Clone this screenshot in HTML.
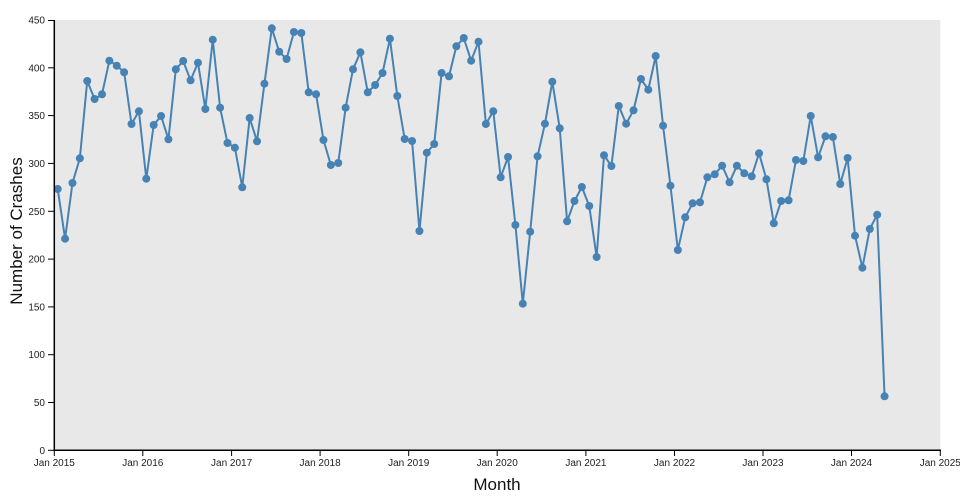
<!DOCTYPE html>
<html><head><meta charset="utf-8"><style>
html,body{margin:0;padding:0;background:#fff;}
svg{display:block;}
text{font-family:"Liberation Sans","DejaVu Sans",sans-serif;}
</style></head><body>
<svg width="960" height="500" viewBox="0 0 960 500" xmlns="http://www.w3.org/2000/svg">
<rect x="54.3" y="20" width="886" height="430.3" fill="#e8e8e8"/>
<polyline fill="none" stroke="#4682b4" stroke-width="2" stroke-linejoin="round" points="57.7,189 65.08,238.7 72.47,183 79.85,158.3 87.23,81 94.61,99 102,94.3 109.38,60.7 116.76,65.7 124.14,72.3 131.53,124 138.91,111.3 146.29,178.7 153.67,125 161.06,116 168.44,139.3 175.82,69.3 183.2,61 190.59,80.3 197.97,62.7 205.35,109 212.73,39.7 220.12,107.7 227.5,143 234.88,147.7 242.27,187.3 249.65,118 257.03,141.3 264.41,83.7 271.8,28.3 279.18,51.7 286.56,59 293.94,32 301.33,33 308.71,92.3 316.09,94.3 323.47,140 330.86,165 338.24,163 345.62,107.7 353,69.3 360.39,52.3 367.77,92.3 375.15,85 382.53,73 389.92,38.7 397.3,96 404.68,139 412.07,141 419.45,231 426.83,152.7 434.21,144 441.6,73 448.98,76.3 456.36,46.3 463.74,38 471.13,60.7 478.51,41.7 485.89,124 493.27,111.3 500.66,177.3 508.04,157 515.42,225 522.8,303.7 530.19,231.7 537.57,156.3 544.95,123.7 552.33,81.7 559.72,128.3 567.1,221.3 574.48,201 581.87,187 589.25,206 596.63,257 604.01,155.3 611.4,166 618.78,106 626.16,123.7 633.54,110.3 640.93,79 648.31,89.7 655.69,56 663.07,125.7 670.46,185.7 677.84,250 685.22,217.3 692.6,203.3 699.99,202.3 707.37,177.3 714.75,174.3 722.13,165.7 729.52,182.3 736.9,165.7 744.28,173.3 751.67,176.3 759.05,153.3 766.43,179.3 773.81,223.3 781.2,201 788.58,200.3 795.96,160 803.34,161 810.73,116 818.11,157.3 825.49,136.3 832.87,137 840.26,184 847.64,158 855.02,235.7 862.4,267.7 869.79,229 877.17,214.7 884.55,396.3"/>
<g fill="#4682b4">
<circle cx="57.7" cy="189" r="4"/><circle cx="65.08" cy="238.7" r="4"/><circle cx="72.47" cy="183" r="4"/><circle cx="79.85" cy="158.3" r="4"/><circle cx="87.23" cy="81" r="4"/><circle cx="94.61" cy="99" r="4"/><circle cx="102" cy="94.3" r="4"/><circle cx="109.38" cy="60.7" r="4"/><circle cx="116.76" cy="65.7" r="4"/><circle cx="124.14" cy="72.3" r="4"/><circle cx="131.53" cy="124" r="4"/><circle cx="138.91" cy="111.3" r="4"/><circle cx="146.29" cy="178.7" r="4"/><circle cx="153.67" cy="125" r="4"/><circle cx="161.06" cy="116" r="4"/><circle cx="168.44" cy="139.3" r="4"/><circle cx="175.82" cy="69.3" r="4"/><circle cx="183.2" cy="61" r="4"/><circle cx="190.59" cy="80.3" r="4"/><circle cx="197.97" cy="62.7" r="4"/><circle cx="205.35" cy="109" r="4"/><circle cx="212.73" cy="39.7" r="4"/><circle cx="220.12" cy="107.7" r="4"/><circle cx="227.5" cy="143" r="4"/><circle cx="234.88" cy="147.7" r="4"/><circle cx="242.27" cy="187.3" r="4"/><circle cx="249.65" cy="118" r="4"/><circle cx="257.03" cy="141.3" r="4"/><circle cx="264.41" cy="83.7" r="4"/><circle cx="271.8" cy="28.3" r="4"/><circle cx="279.18" cy="51.7" r="4"/><circle cx="286.56" cy="59" r="4"/><circle cx="293.94" cy="32" r="4"/><circle cx="301.33" cy="33" r="4"/><circle cx="308.71" cy="92.3" r="4"/><circle cx="316.09" cy="94.3" r="4"/><circle cx="323.47" cy="140" r="4"/><circle cx="330.86" cy="165" r="4"/><circle cx="338.24" cy="163" r="4"/><circle cx="345.62" cy="107.7" r="4"/><circle cx="353" cy="69.3" r="4"/><circle cx="360.39" cy="52.3" r="4"/><circle cx="367.77" cy="92.3" r="4"/><circle cx="375.15" cy="85" r="4"/><circle cx="382.53" cy="73" r="4"/><circle cx="389.92" cy="38.7" r="4"/><circle cx="397.3" cy="96" r="4"/><circle cx="404.68" cy="139" r="4"/><circle cx="412.07" cy="141" r="4"/><circle cx="419.45" cy="231" r="4"/><circle cx="426.83" cy="152.7" r="4"/><circle cx="434.21" cy="144" r="4"/><circle cx="441.6" cy="73" r="4"/><circle cx="448.98" cy="76.3" r="4"/><circle cx="456.36" cy="46.3" r="4"/><circle cx="463.74" cy="38" r="4"/><circle cx="471.13" cy="60.7" r="4"/><circle cx="478.51" cy="41.7" r="4"/><circle cx="485.89" cy="124" r="4"/><circle cx="493.27" cy="111.3" r="4"/><circle cx="500.66" cy="177.3" r="4"/><circle cx="508.04" cy="157" r="4"/><circle cx="515.42" cy="225" r="4"/><circle cx="522.8" cy="303.7" r="4"/><circle cx="530.19" cy="231.7" r="4"/><circle cx="537.57" cy="156.3" r="4"/><circle cx="544.95" cy="123.7" r="4"/><circle cx="552.33" cy="81.7" r="4"/><circle cx="559.72" cy="128.3" r="4"/><circle cx="567.1" cy="221.3" r="4"/><circle cx="574.48" cy="201" r="4"/><circle cx="581.87" cy="187" r="4"/><circle cx="589.25" cy="206" r="4"/><circle cx="596.63" cy="257" r="4"/><circle cx="604.01" cy="155.3" r="4"/><circle cx="611.4" cy="166" r="4"/><circle cx="618.78" cy="106" r="4"/><circle cx="626.16" cy="123.7" r="4"/><circle cx="633.54" cy="110.3" r="4"/><circle cx="640.93" cy="79" r="4"/><circle cx="648.31" cy="89.7" r="4"/><circle cx="655.69" cy="56" r="4"/><circle cx="663.07" cy="125.7" r="4"/><circle cx="670.46" cy="185.7" r="4"/><circle cx="677.84" cy="250" r="4"/><circle cx="685.22" cy="217.3" r="4"/><circle cx="692.6" cy="203.3" r="4"/><circle cx="699.99" cy="202.3" r="4"/><circle cx="707.37" cy="177.3" r="4"/><circle cx="714.75" cy="174.3" r="4"/><circle cx="722.13" cy="165.7" r="4"/><circle cx="729.52" cy="182.3" r="4"/><circle cx="736.9" cy="165.7" r="4"/><circle cx="744.28" cy="173.3" r="4"/><circle cx="751.67" cy="176.3" r="4"/><circle cx="759.05" cy="153.3" r="4"/><circle cx="766.43" cy="179.3" r="4"/><circle cx="773.81" cy="223.3" r="4"/><circle cx="781.2" cy="201" r="4"/><circle cx="788.58" cy="200.3" r="4"/><circle cx="795.96" cy="160" r="4"/><circle cx="803.34" cy="161" r="4"/><circle cx="810.73" cy="116" r="4"/><circle cx="818.11" cy="157.3" r="4"/><circle cx="825.49" cy="136.3" r="4"/><circle cx="832.87" cy="137" r="4"/><circle cx="840.26" cy="184" r="4"/><circle cx="847.64" cy="158" r="4"/><circle cx="855.02" cy="235.7" r="4"/><circle cx="862.4" cy="267.7" r="4"/><circle cx="869.79" cy="229" r="4"/><circle cx="877.17" cy="214.7" r="4"/><circle cx="884.55" cy="396.3" r="4"/>
</g>
<!-- axes -->
<g stroke="#000" fill="none">
<line x1="54.3" y1="20" x2="54.3" y2="451" stroke-width="1.5"/>
<line x1="53.5" y1="450.3" x2="941" y2="450.3" stroke-width="1.5"/>
<g stroke-width="1">
<line x1="48" y1="450.3" x2="54" y2="450.3"/><line x1="48" y1="402.5" x2="54" y2="402.5"/><line x1="48" y1="354.7" x2="54" y2="354.7"/><line x1="48" y1="306.9" x2="54" y2="306.9"/><line x1="48" y1="259.1" x2="54" y2="259.1"/><line x1="48" y1="211.3" x2="54" y2="211.3"/><line x1="48" y1="163.4" x2="54" y2="163.4"/><line x1="48" y1="115.6" x2="54" y2="115.6"/><line x1="48" y1="67.8" x2="54" y2="67.8"/><line x1="48" y1="20.5" x2="54" y2="20.5"/>
<line x1="54.3" y1="450" x2="54.3" y2="456"/><line x1="142.8" y1="450" x2="142.8" y2="456"/><line x1="231.6" y1="450" x2="231.6" y2="456"/><line x1="320.1" y1="450" x2="320.1" y2="456"/><line x1="408.7" y1="450" x2="408.7" y2="456"/><line x1="497.2" y1="450" x2="497.2" y2="456"/><line x1="585.9" y1="450" x2="585.9" y2="456"/><line x1="674.5" y1="450" x2="674.5" y2="456"/><line x1="763" y1="450" x2="763" y2="456"/><line x1="851.5" y1="450" x2="851.5" y2="456"/><line x1="940.3" y1="450" x2="940.3" y2="456"/>
</g>
</g>
<g font-size="10" fill="#222" text-anchor="end">
<text x="45" y="454">0</text><text x="45" y="406">50</text><text x="45" y="358.2">100</text><text x="45" y="310.4">150</text><text x="45" y="262.6">200</text><text x="45" y="214.8">250</text><text x="45" y="166.9">300</text><text x="45" y="119.1">350</text><text x="45" y="71.3">400</text><text x="45" y="23.5">450</text>
</g>
<g font-size="10" fill="#222" text-anchor="middle">
<text x="54.3" y="466">Jan 2015</text><text x="142.8" y="466">Jan 2016</text><text x="231.6" y="466">Jan 2017</text><text x="320.1" y="466">Jan 2018</text><text x="408.7" y="466">Jan 2019</text><text x="497.2" y="466">Jan 2020</text><text x="585.9" y="466">Jan 2021</text><text x="674.5" y="466">Jan 2022</text><text x="763" y="466">Jan 2023</text><text x="851.5" y="466">Jan 2024</text><text x="940.3" y="466">Jan 2025</text>
</g>
<text x="497" y="490" font-size="17" fill="#111" text-anchor="middle">Month</text>
<text transform="translate(22,231) rotate(-90)" font-size="17" fill="#111" text-anchor="middle">Number of Crashes</text>
</svg>
</body></html>
